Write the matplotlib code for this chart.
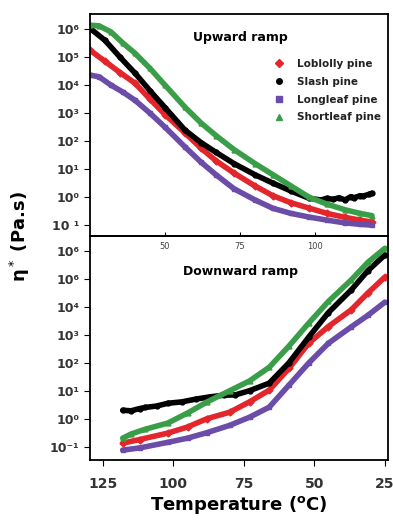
import numpy as np
import matplotlib.pyplot as plt
from matplotlib.lines import Line2D

# upward ramp (temperature increasing), log10 of viscosity
up_T_green = [25, 28, 32, 36, 40, 45, 50, 56.7, 62, 67, 73, 80, 86, 92, 98, 104, 110, 115, 119]
up_green = [6.14, 6.12, 5.9, 5.5, 5.14, 4.6, 4.0, 3.21, 2.65, 2.2, 1.7, 1.2, 0.8, 0.4, 0.0, -0.25, -0.45, -0.58, -0.66]

up_T_black = [25, 30, 35, 40, 45, 50, 56.7, 62, 67, 73, 80, 86, 92, 98, 102, 104, 106, 108, 110, 112, 113, 115, 116, 118, 119]
up_black = [6.03, 5.6, 5.0, 4.43, 3.8, 3.2, 2.39, 1.95, 1.6, 1.2, 0.8, 0.5, 0.22, -0.04, -0.1, -0.04, -0.08, -0.02, -0.1, 0.02, -0.02, 0.05, 0.04, 0.1, 0.14]

up_T_red = [25, 30, 35, 40, 45, 50, 56.7, 62, 67, 73, 80, 86, 92, 98, 104, 110, 115, 119]
up_red = [5.25, 4.85, 4.45, 4.07, 3.5, 2.95, 2.29, 1.75, 1.3, 0.86, 0.4, 0.05, -0.2, -0.39, -0.58, -0.72, -0.82, -0.89]

up_T_purple = [25, 28, 32, 36, 40, 45, 50, 56.7, 62, 67, 73, 80, 86, 92, 98, 104, 110, 115, 119]
up_purple = [4.36, 4.3, 4.0, 3.75, 3.46, 3.0, 2.5, 1.79, 1.25, 0.8, 0.3, -0.1, -0.4, -0.58, -0.71, -0.82, -0.92, -0.97, -1.0]

# downward ramp (temperature decreasing)
dn_T_green = [118, 115, 110, 102, 95, 88, 80, 73, 66, 59, 52, 45, 37, 31, 25]
dn_green = [-0.70, -0.55, -0.38, -0.16, 0.2, 0.6, 1.0, 1.35, 1.84, 2.6, 3.42, 4.2, 4.96, 5.6, 6.1]

dn_T_black = [118, 115, 112, 110, 106, 102, 97, 92, 87, 82, 78, 73, 66, 59, 52, 45, 37, 31, 25]
dn_black = [0.30, 0.28, 0.36, 0.4, 0.45, 0.55, 0.6, 0.7, 0.78, 0.84, 0.85, 1.0, 1.27, 2.0, 2.92, 3.8, 4.6, 5.3, 5.86]

dn_T_red = [118, 112, 102, 95, 88, 80, 73, 66, 59, 52, 45, 37, 31, 25]
dn_red = [-0.88, -0.75, -0.52, -0.3, 0.0, 0.23, 0.6, 1.02, 1.8, 2.70, 3.3, 3.89, 4.5, 5.07]

dn_T_purple = [118, 112, 102, 95, 88, 80, 73, 66, 59, 52, 45, 37, 31, 25]
dn_purple = [-1.13, -1.05, -0.85, -0.7, -0.5, -0.24, 0.05, 0.41, 1.2, 1.99, 2.7, 3.28, 3.7, 4.17]

labels = ["Loblolly pine", "Slash pine", "Longleaf pine", "Shortleaf pine"]
colors = ["#e3262b", "#000000", "#6b4ca8", "#3a9e48"]
markers = ["D", "o", "s", "^"]

top_yticks = [6, 5, 4, 3, 2, 1, 0, -1]
top_ylabels = ["10⁶", "10⁵", "10⁴", "10³", "10²", "10¹", "10⁰", "10 ¹"]
bot_ylabels = ["10⁶", "10⁶", "10⁴", "10³", "10²", "10¹", "10⁰", "10⁻¹"]
top_xticks = [50, 75, 100]
bot_xticks = [125, 100, 75, 50, 25]

fig = plt.figure(figsize=(3.93, 5.2), dpi=100)
ax1 = fig.add_axes([0.229, 0.546, 0.758, 0.427])
ax2 = fig.add_axes([0.229, 0.115, 0.758, 0.431])
ax2.set_facecolor("none")

up = [(up_T_red, up_red), (up_T_black, up_black), (up_T_purple, up_purple), (up_T_green, up_green)]
dn = [(dn_T_red, dn_red), (dn_T_black, dn_black), (dn_T_purple, dn_purple), (dn_T_green, dn_green)]

for (T, v), c, m in zip(up, colors, markers):
    ax1.plot(T, 10 ** np.array(v), color=c, lw=4, marker=m, ms=3.5, mec=c, solid_capstyle="round")
for (T, v), c, m in zip(dn, colors, markers):
    ax2.plot(T, 10 ** np.array(v), color=c, lw=4, marker=m, ms=3.5, mec=c, solid_capstyle="round")

for ax in (ax1, ax2):
    ax.set_yscale("log")
    ax.minorticks_off()
    for s in ax.spines.values():
        s.set_linewidth(1.3)

ax1.set_xlim(25, 124.3)
ax1.set_ylim(10 ** -1.39, 10 ** 6.54)
ax1.set_yticks([10.0 ** k for k in top_yticks])
ax1.set_yticklabels(top_ylabels, fontsize=9, fontweight="bold", color="#333333")
ax1.set_xticks(top_xticks)
ax1.set_xticklabels([str(t) for t in top_xticks], fontsize=6, color="#444444")
ax1.tick_params(axis="x", direction="in", length=3, pad=4)
ax1.tick_params(axis="y", direction="out", length=4)

ax2.set_xlim(129.6, 23.9)
ax2.set_ylim(10 ** -1.49, 10 ** 6.54)
ax2.set_yticks([10.0 ** k for k in top_yticks])
ax2.set_yticklabels(bot_ylabels, fontsize=9, fontweight="bold", color="#333333")
ax2.set_xticks(bot_xticks)
ax2.set_xticklabels([str(t) for t in bot_xticks], fontsize=10, fontweight="bold", color="#333333")
ax2.tick_params(axis="x", direction="out", length=4, pad=8)
ax2.tick_params(axis="y", direction="out", length=4)

ax1.text(0.505, 0.896, "Upward ramp", transform=ax1.transAxes, ha="center", va="center",
         fontsize=9, fontweight="bold")
ax2.text(0.505, 0.84, "Downward ramp", transform=ax2.transAxes, ha="center", va="center",
         fontsize=9, fontweight="bold")

handles = [Line2D([], [], ls="none", marker=m, color=c, ms=4) for c, m in zip(colors, markers)]
leg = ax1.legend(handles, labels, loc="upper right", bbox_to_anchor=(1.01, 0.84), frameon=False,
                 prop={"size": 7.5, "weight": "bold"}, handletextpad=1.2, labelspacing=0.75,
                 handlelength=1.2)
for t in leg.get_texts():
    t.set_color("#222222")

fig.text(0.05, 0.545, "η$^*$ (Pa.s)", rotation=90, ha="center", va="center", fontsize=13, fontweight="bold")
fig.text(0.607, 0.028, "Temperature ($^{\\mathbf{o}}$C)", ha="center", va="center", fontsize=13, fontweight="bold")

plt.savefig("out.png", dpi=100)
